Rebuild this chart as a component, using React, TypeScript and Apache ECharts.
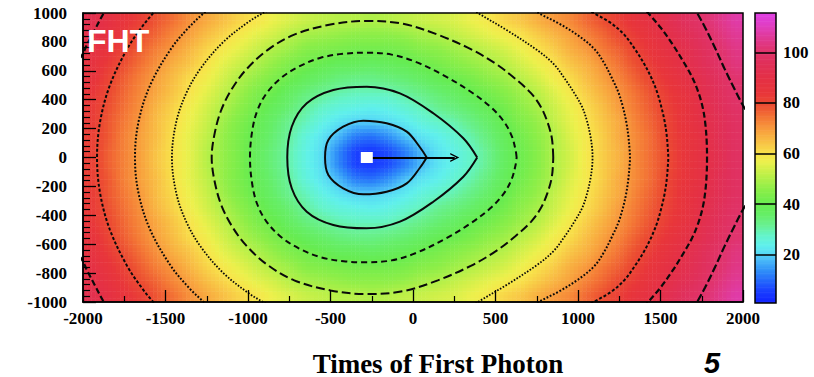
import { useEffect, useRef } from "react";
import * as echarts from "echarts";

// ---- axes ---------------------------------------------------------------
const X_MIN = -2000;
const X_MAX = 2000;
const Y_MIN = -1000;
const Y_MAX = 1000;
const X_STEP = 500;
const Y_STEP = 200;

// ---- first-hit-time map: 100 x 100 cells, rows for y = 50 ... 950 ---------
// (the map is mirror-symmetric about y = 0, so the lower half reuses these rows)
const CELL = 100;
const xCentres = Array.from({ length: 40 }, (_, i) => X_MIN + CELL / 2 + CELL * i);
const yCentresUpper = [50, 150, 250, 350, 450, 550, 650, 750, 850, 950];

const fhtY50 = [82, 77, 73, 69, 64, 60, 56, 51, 47, 43, 38, 34, 30, 25, 21, 13, 6, 5, 7, 12, 18, 22, 25, 28, 32, 37, 41, 45, 50, 54, 59, 63, 67, 72, 76, 80, 85, 89, 93, 98];
const fhtY150 = [82, 78, 73, 69, 65, 60, 56, 52, 47, 43, 39, 35, 31, 26, 22, 18, 12, 11, 14, 19, 22, 24, 27, 30, 34, 38, 42, 46, 50, 55, 59, 63, 68, 72, 76, 81, 85, 89, 94, 98];
const fhtY250 = [83, 78, 74, 70, 65, 61, 57, 53, 48, 44, 40, 36, 32, 29, 25, 22, 20, 20, 21, 23, 26, 28, 30, 33, 36, 40, 44, 47, 52, 56, 60, 64, 68, 73, 77, 81, 86, 90, 94, 98];
const fhtY350 = [83, 79, 75, 71, 66, 62, 58, 54, 50, 46, 42, 38, 35, 31, 28, 26, 25, 24, 25, 27, 29, 32, 34, 36, 39, 42, 46, 49, 53, 57, 61, 65, 70, 74, 78, 82, 86, 91, 95, 99];
const fhtY450 = [84, 80, 76, 72, 68, 64, 60, 56, 52, 48, 44, 41, 37, 34, 32, 30, 29, 29, 29, 31, 33, 35, 37, 40, 42, 45, 48, 51, 55, 59, 63, 67, 71, 75, 79, 83, 87, 92, 96, 100];
const fhtY550 = [86, 81, 77, 73, 69, 65, 61, 58, 54, 50, 47, 44, 41, 38, 36, 34, 33, 33, 34, 35, 37, 39, 41, 43, 46, 48, 51, 54, 58, 61, 65, 69, 73, 77, 81, 85, 89, 93, 97, 101];
const fhtY650 = [87, 83, 79, 75, 71, 67, 64, 60, 56, 53, 50, 47, 44, 42, 40, 38, 38, 37, 38, 39, 41, 43, 45, 47, 49, 51, 54, 57, 60, 64, 67, 71, 75, 79, 83, 87, 91, 95, 99, 103];
const fhtY750 = [89, 85, 81, 77, 73, 70, 66, 62, 59, 56, 53, 50, 48, 45, 44, 43, 42, 42, 42, 43, 45, 46, 48, 50, 52, 54, 57, 60, 63, 67, 70, 74, 77, 81, 85, 89, 92, 96, 100, 104];
const fhtY850 = [91, 87, 83, 79, 76, 72, 69, 65, 62, 59, 56, 54, 51, 49, 48, 47, 46, 46, 46, 47, 49, 50, 52, 54, 56, 58, 60, 63, 66, 69, 73, 76, 80, 83, 87, 91, 94, 98, 102, 106];
const fhtY950 = [93, 89, 85, 82, 78, 75, 71, 68, 65, 62, 60, 57, 55, 53, 52, 51, 51, 50, 51, 52, 53, 54, 55, 57, 59, 62, 64, 67, 70, 72, 76, 79, 82, 86, 89, 93, 97, 100, 104, 108];
const fhtRows = [fhtY50, fhtY150, fhtY250, fhtY350, fhtY450, fhtY550, fhtY650, fhtY750, fhtY850, fhtY950];

// ---- contour lines (upper half, y >= 0) ---------------------------------
const contour20 = [[-533, 0], [-513, 121], [-423, 213], [-301, 255], [-160, 237], [-38, 179], [42, 71], [83, 0]];
const contour30 = [[-762, 0], [-735, 213], [-644, 375], [-483, 467], [-281, 490], [-79, 444], [123, 306], [305, 133], [389, 0]];
const contour40 = [[-988, 0], [-975, 180], [-945, 320], [-890, 440], [-800, 550], [-690, 630], [-560, 690], [-420, 718], [-280, 725], [-130, 712], [20, 660], [200, 560], [350, 455], [470, 350], [550, 250], [598, 150], [622, 50], [628, 0]];
const contour50 = [[-1220, 0], [-1205, 150], [-1165, 320], [-1100, 470], [-1010, 610], [-880, 745], [-720, 850], [-500, 920], [-280, 945], [-60, 925], [150, 850], [350, 750], [500, 650], [620, 545], [715, 445], [775, 350], [815, 245], [842, 130], [850, 0]];
const contour60Back = [[-1461, 0], [-1434, 250], [-1372, 450], [-1285, 620], [-1149, 800], [-995, 940], [-908, 1000], [-821, 1050]];
const contour60Front = [[320, 1060], [394, 1000], [570, 880], [750, 745], [850, 650], [917, 550], [975, 450], [1025, 350], [1055, 250], [1075, 150], [1086, 60], [1088, 0]];
const contour70Back = [[-1685, 0], [-1663, 250], [-1593, 500], [-1468, 750], [-1359, 900], [-1267, 1000], [-1179, 1080]];
const contour70Front = [[680, 1060], [760, 1000], [880, 930], [1000, 845], [1100, 750], [1160, 650], [1205, 550], [1245, 450], [1272, 350], [1292, 250], [1305, 150], [1313, 50], [1315, 0]];
const contour80Back = [[-1915, 0], [-1896, 250], [-1837, 500], [-1733, 750], [-1645, 900], [-1574, 1000], [-1507, 1080]];
const contour80Front = [[1000, 1060], [1094, 1000], [1200, 930], [1280, 850], [1345, 750], [1400, 650], [1445, 550], [1480, 450], [1505, 350], [1525, 250], [1538, 150], [1545, 50], [1547, 0]];
const contour90Back = [[-2060, 640], [-2010, 700], [-1976, 780], [-1930, 880], [-1879, 990], [-1840, 1060]];
const contour90Front = [[1380, 1060], [1425, 1000], [1500, 900], [1575, 780], [1635, 670], [1690, 560], [1730, 450], [1757, 340], [1772, 230], [1780, 110], [1782, 0]];
const contour100Front = [[1690, 1060], [1722, 1000], [1770, 900], [1830, 760], [1890, 610], [1950, 470], [2000, 360], [2060, 250]];

// ---- source position and direction ---------------------------------------
const photonSource = [-280, 0];
const arrowTip = [253, 0];

// ---- colour scale ----------------------------------------------------------
const colorbarRange = [1, 115.5];
const colorbarTicks = [20, 40, 60, 80, 100];
const paletteLevels = [1, 6, 10, 14, 18, 21, 24, 28, 32, 36, 40, 46, 52, 57, 60, 64, 69, 74, 79, 84, 90, 96, 101, 106, 111, 115.5];
const paletteColors = [
  "#1020ff", "#1a40ff", "#2468fb", "#3090f8", "#48b8f8", "#58dcf4", "#60f0ec", "#64f4c8", "#68f090", "#66ee68",
  "#66ec50", "#8cee48", "#c0f048", "#ecf04c", "#f8e44a", "#f8c646", "#f8a23e", "#f47a36", "#ec4e32", "#e8363a",
  "#e43046", "#e0305a", "#e0346e", "#e03a96", "#e03ec4", "#e040e4",
];

// each map cell is shaded in SHADE x SHADE steps
const SHADE = 4;

function hexToRgb(h: string): number[] {
  const n = parseInt(h.slice(1), 16);
  return [(n >> 16) & 255, (n >> 8) & 255, n & 255];
}

function colorAt(v: number): string {
  if (v <= paletteLevels[0]) return paletteColors[0];
  for (let i = 1; i < paletteLevels.length; i++) {
    if (v <= paletteLevels[i]) {
      const t = (v - paletteLevels[i - 1]) / (paletteLevels[i] - paletteLevels[i - 1]);
      const a = hexToRgb(paletteColors[i - 1]);
      const b = hexToRgb(paletteColors[i]);
      const c = a.map((av, k) => Math.round(av + (b[k] - av) * t));
      return `rgb(${c[0]},${c[1]},${c[2]})`;
    }
  }
  return paletteColors[paletteColors.length - 1];
}

// Turn an upper-half arc into drawable paths, reflected about y = 0.
function mirrorArc(upper: number[][]): number[][][] {
  const flip = (p: number[]) => [p[0], -p[1]];
  const first = upper[0];
  const last = upper[upper.length - 1];
  if (first[1] === 0 && last[1] === 0) {
    const rev = upper.slice().reverse();
    return [[...rev, ...upper.slice(1).map(flip)]];
  }
  if (first[1] === 0) return [[...upper.slice(1).reverse().map(flip), ...upper]];
  if (last[1] === 0) return [[...upper, ...upper.slice(0, -1).reverse().map(flip)]];
  return [upper, upper.map(flip)];
}

const contourSets = [
  { arcs: [contour20], dash: "solid" as any, width: 2 },
  { arcs: [contour30], dash: "solid" as any, width: 2 },
  { arcs: [contour40], dash: [6, 4], width: 2 },
  { arcs: [contour50], dash: [9, 4], width: 2 },
  { arcs: [contour60Back, contour60Front], dash: [1.6, 1.6], width: 1.8 },
  { arcs: [contour70Back, contour70Front], dash: [1.8, 1.8], width: 2 },
  { arcs: [contour80Back, contour80Front], dash: [3, 2], width: 2 },
  { arcs: [contour90Back, contour90Front], dash: [6, 3], width: 2.2 },
  { arcs: [contour100Front], dash: [8, 3], width: 2.2 },
];

const LABEL_FONT = {
  color: "#000",
  fontFamily: "Liberation Serif",
  fontWeight: "bold" as const,
  fontSize: 17,
};

export default function App() {
  const ref = useRef<HTMLDivElement>(null);

  useEffect(() => {
    if (!ref.current) return;
    const chart = echarts.init(ref.current, undefined, { renderer: "svg" });

    // full grid: rows ordered from y = -950 up to y = 950
    const yAll = [...yCentresUpper.slice().reverse().map((y) => -y), ...yCentresUpper];
    const rowsAll = [...fhtRows.slice().reverse(), ...fhtRows];

    const cells: number[][] = [];
    rowsAll.forEach((row, r) => {
      row.forEach((v, c) => cells.push([xCentres[c], yAll[r], v]));
    });

    // value seen at (x, y) when the cell grid is shaded smoothly
    const shadeAt = (x: number, y: number) => {
      const fx = Math.min(Math.max((x - xCentres[0]) / CELL, 0), xCentres.length - 1);
      const fy = Math.min(Math.max((y - yAll[0]) / CELL, 0), yAll.length - 1);
      const i0 = Math.min(Math.floor(fx), xCentres.length - 2);
      const j0 = Math.min(Math.floor(fy), yAll.length - 2);
      const tx = fx - i0;
      const ty = fy - j0;
      const v00 = rowsAll[j0][i0];
      const v10 = rowsAll[j0][i0 + 1];
      const v01 = rowsAll[j0 + 1][i0];
      const v11 = rowsAll[j0 + 1][i0 + 1];
      return (v00 * (1 - tx) + v10 * tx) * (1 - ty) + (v01 * (1 - tx) + v11 * tx) * ty;
    };

    const ramp: number[][] = [];
    for (let v = colorbarRange[0]; v <= colorbarRange[1]; v += 0.5) ramp.push([0.5, v]);

    const contourSeries: any[] = [];
    contourSets.forEach((set) => {
      set.arcs.forEach((arc) => {
        mirrorArc(arc).forEach((path) => {
          contourSeries.push({
            type: "line",
            xAxisIndex: 0,
            yAxisIndex: 0,
            data: path,
            smooth: 0.35,
            showSymbol: false,
            symbol: "none",
            clip: true,
            silent: true,
            z: 3,
            lineStyle: { color: "#0a0a0a", width: set.width, type: set.dash },
          });
        });
      });
    });

    const option: any = {
      animation: false,
      backgroundColor: "#ffffff",
      grid: [
        { left: 83, top: 13, width: 660, height: 289, show: true, borderColor: "#000", borderWidth: 1.5, backgroundColor: "transparent", z: 11 },
        { left: 755, top: 13, width: 21, height: 290, show: true, borderColor: "#000", borderWidth: 1.5, backgroundColor: "transparent", z: 11 },
      ],
      xAxis: [
        {
          gridIndex: 0,
          type: "value",
          min: X_MIN,
          max: X_MAX,
          interval: X_STEP,
          position: "bottom",
          z: 12,
          axisLine: { show: true, onZero: false, lineStyle: { color: "#000", width: 1.5 } },
          axisTick: { show: true, inside: true, length: 12, lineStyle: { color: "#000", width: 1.3 } },
          minorTick: { show: true, splitNumber: 2, length: 6, lineStyle: { color: "#000", width: 1.2 } },
          splitLine: { show: false },
          axisLabel: { ...LABEL_FONT, margin: 8, formatter: (v: number) => String(v) },
        },
        { gridIndex: 1, type: "value", min: 0, max: 1, show: false, axisLine: { onZero: false } },
      ],
      yAxis: [
        {
          gridIndex: 0,
          type: "value",
          min: Y_MIN,
          max: Y_MAX,
          interval: Y_STEP,
          position: "left",
          z: 12,
          axisLine: { show: true, onZero: false, lineStyle: { color: "#000", width: 1.5 } },
          axisTick: { show: true, inside: true, length: 13, lineStyle: { color: "#000", width: 1.3 } },
          minorTick: { show: true, splitNumber: 5, length: 7, lineStyle: { color: "#000", width: 1.2 } },
          splitLine: { show: false },
          axisLabel: { ...LABEL_FONT, margin: 16, formatter: (v: number) => String(v) },
        },
        {
          gridIndex: 1,
          type: "value",
          min: colorbarRange[0],
          max: colorbarRange[1],
          position: "right",
          z: 12,
          axisLine: { show: false, onZero: false },
          axisTick: { show: true, inside: true, length: 21, customValues: colorbarTicks, lineStyle: { color: "#000", width: 1.5 } },
          splitLine: { show: false },
          axisLabel: { ...LABEL_FONT, margin: 7, customValues: colorbarTicks, formatter: (v: number) => String(v) },
        },
      ],
      series: [
        {
          type: "custom",
          xAxisIndex: 0,
          yAxisIndex: 0,
          data: cells,
          clip: true,
          silent: true,
          z: 1,
          renderItem: (_params: any, api: any) => {
            const x = api.value(0);
            const y = api.value(1);
            const step = CELL / SHADE;
            const children: any[] = [];
            for (let a = 0; a < SHADE; a++) {
              for (let b = 0; b < SHADE; b++) {
                const sx = x - CELL / 2 + step * (a + 0.5);
                const sy = y - CELL / 2 + step * (b + 0.5);
                const p = api.coord([sx - step / 2, sy + step / 2]);
                const q = api.coord([sx + step / 2, sy - step / 2]);
                children.push({
                  type: "rect",
                  shape: { x: p[0], y: p[1], width: q[0] - p[0] + 0.5, height: q[1] - p[1] + 0.5 },
                  style: { fill: colorAt(shadeAt(sx, sy)) },
                });
              }
            }
            return { type: "group", children };
          },
        },
        ...contourSeries,
        {
          type: "lines",
          coordinateSystem: "cartesian2d",
          xAxisIndex: 0,
          yAxisIndex: 0,
          z: 4,
          silent: true,
          symbol: ["none", "path://M0,10 L5,0 L10,10 L8.4,10 L5,3.2 L1.6,10 Z"],
          symbolSize: [10, 9],
          lineStyle: { color: "#000", width: 2, opacity: 1 },
          data: [{ coords: [photonSource, arrowTip] }],
        },
        {
          type: "scatter",
          xAxisIndex: 0,
          yAxisIndex: 0,
          z: 5,
          silent: true,
          symbol: "rect",
          symbolSize: [12, 11],
          itemStyle: { color: "#ffffff", opacity: 1 },
          data: [photonSource],
        },
        {
          type: "custom",
          xAxisIndex: 1,
          yAxisIndex: 1,
          data: ramp,
          clip: true,
          silent: true,
          z: 1,
          renderItem: (_params: any, api: any) => {
            const v = api.value(1);
            const a = api.coord([0, v + 0.25]);
            const b = api.coord([1, v - 0.25]);
            return {
              type: "rect",
              shape: { x: a[0], y: a[1], width: b[0] - a[0], height: b[1] - a[1] + 0.6 },
              style: { fill: colorAt(v) },
            };
          },
        },
      ],
      graphic: [
        {
          type: "text",
          x: 87,
          y: 25,
          z: 20,
          style: { text: "FHT", fill: "#ffffff", font: 'bold 32px "Liberation Sans"' },
        },
        {
          type: "text",
          x: 438,
          y: 350,
          z: 20,
          style: { text: "Times of First Photon", fill: "#000", font: 'bold 27px "Liberation Serif"', align: "center", verticalAlign: "top" },
        },
        {
          type: "text",
          x: 712,
          y: 377,
          z: 20,
          style: { text: "5", fill: "#000", font: 'italic bold 29px "Liberation Sans"', align: "center", verticalAlign: "bottom" },
        },
      ],
    };

    chart.setOption(option);
    return () => chart.dispose();
  }, []);

  return (
    <div
      ref={ref}
      style={{ position: "fixed", left: 0, top: 0, width: 814, height: 377, background: "#ffffff" }}
    />
  );
}
